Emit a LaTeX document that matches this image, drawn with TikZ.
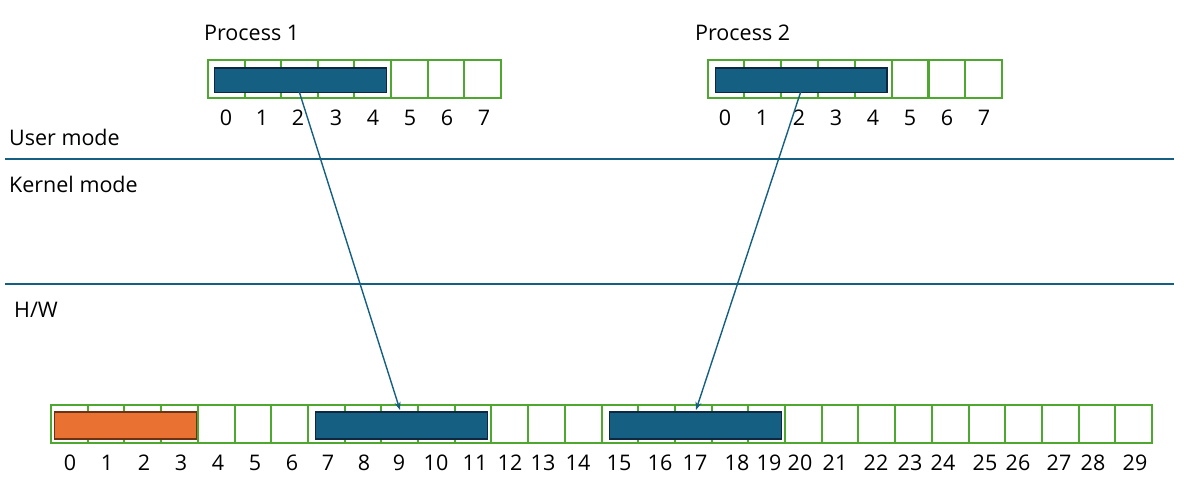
\documentclass[tikz,border=0pt]{standalone}
\usepackage{fontspec}
\setmainfont{Open Sans}
\usetikzlibrary{arrows.meta}
\definecolor{cgreen}{HTML}{4EA72E}
\definecolor{cblue}{HTML}{156082}
\definecolor{cdark}{HTML}{0E2841}
\definecolor{corange}{HTML}{E97132}
\definecolor{cbrown}{HTML}{6B3313}
\begin{document}
\begin{tikzpicture}[x=1pt,y=-1pt,
  cell/.style={draw=cgreen,line width=2pt,fill=white,minimum width=36.7pt,minimum height=37.5pt,anchor=north west,inner sep=0pt,outer sep=0pt},
  blk/.style={draw=cdark,fill=cblue,line width=1.8pt,anchor=north west,inner sep=0pt,minimum height=24.5pt},
  oblk/.style={draw=cbrown,fill=corange,line width=1.8pt,anchor=north west,inner sep=0pt,minimum height=27pt},
  lbl/.style={font=\fontsize{21.5}{25}\selectfont,inner sep=0pt},
  sep/.style={draw=cblue,line width=1.4pt},
  ptr/.style={draw=cblue,line width=1.4pt,-{Stealth[length=8pt,width=6pt]}}]
\useasboundingbox (0,0) rectangle (1194,499);
% Process 1
\node[lbl,anchor=west] (t1) at (204,33) {Process 1};
\foreach \i in {0,...,7} \node[cell] (pa\i) at ({208+36.6*\i},60) {};
\node[blk,minimum width=172pt] (pablk) at (213.5,67) {};
\foreach \i/\x in {0/226,1/262,2/298,3/336,4/373,5/410,6/447,7/484} \node[lbl] (la\i) at (\x,118) {\i};
% Process 2
\node[lbl,anchor=west] (t2) at (695,33) {Process 2};
\foreach \i in {0,...,7} \node[cell] (pb\i) at ({707.5+36.85*\i},60) {};
\node[blk,minimum width=171.5pt] (pbblk) at (714.5,67) {};
\foreach \i/\x in {0/725,1/762,2/799,3/836,4/873,5/910,6/947,7/984} \node[lbl] (lb\i) at (\x,118) {\i};
% mode lines
\coordinate (l1a) at (5,159); \coordinate (l1b) at (1174,159);
\coordinate (l2a) at (5,284); \coordinate (l2b) at (1174,284);
\draw[sep] (l1a) -- (l1b);
\draw[sep] (l2a) -- (l2b);
\node[lbl,anchor=west] (um) at (9,137) {User mode};
\node[lbl,anchor=west] (km) at (9,184) {Kernel mode};
\node[lbl,anchor=west] (hw) at (14,310) {H/W};
% H/W memory
\foreach \i in {0,...,29} \node[cell] (m\i) at ({51+36.7*\i},405) {};
\node[oblk,minimum width=142pt] (mo) at (53.5,411) {};
\node[blk,minimum width=172pt,minimum height=27pt] (mb1) at (314.5,411) {};
\node[blk,minimum width=172pt,minimum height=27pt] (mb2) at (608.5,411) {};
\foreach \i/\x in {0/70,1/107,2/144,3/181,4/218,5/255,6/292,7/328,8/364,9/399,10/436,11/475,12/510,13/543,14/578,15/619,16/660,17/695,18/737,19/769,20/800,21/835,22/876,23/910,24/943,25/985,26/1018,27/1059,28/1093,29/1135}
  \node[lbl] (n\i) at (\x,463) {\i};
% pointers
\coordinate (s1) at (299,91); \coordinate (e1) at (400,410);
\coordinate (s2) at (801,91); \coordinate (e2) at (696,410);
\draw[ptr] (s1) -- (e1);
\draw[ptr] (s2) -- (e2);
\end{tikzpicture}
\end{document}
